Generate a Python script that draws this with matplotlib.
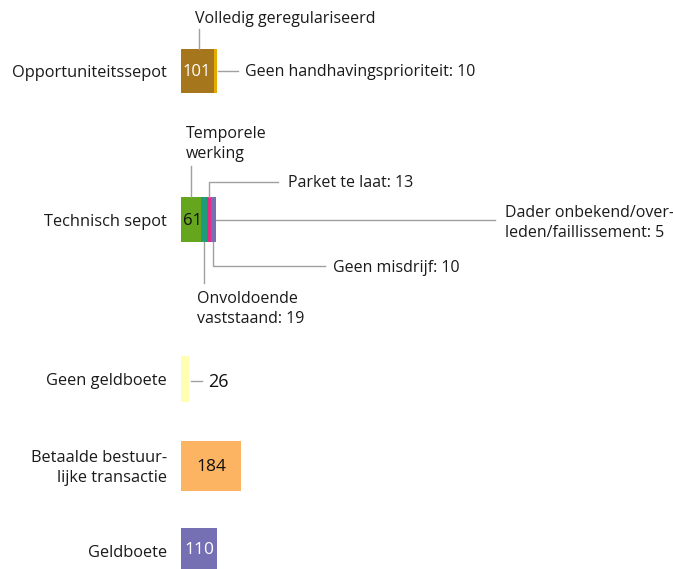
import matplotlib
matplotlib.use("Agg")
import matplotlib.pyplot as plt
import numpy as np

plt.rcParams['font.family'] = ['Open Sans', 'DejaVu Sans']

# ---- data ----
categories = ["Opportuniteitssepot", "Technisch sepot", "Geen geldboete",
              "Betaalde bestuur-\nlijke transactie", "Geldboete"]
opp_labels = ["Volledig geregulariseerd", "Geen handhavingsprioriteit"]
opp_values = [101, 10]
tech_labels = ["Temporele\nwerking", "Onvoldoende\nvaststaand", "Parket te laat",
               "Geen misdrijf", "Dader onbekend/over-\nleden/faillissement"]
tech_values = [61, 19, 13, 10, 5]
geen_geldboete = [26]
betaalde = [184]
geldboete = [110]

# ---- colours / layout ----
opp_colors = ["#A6761D", "#E6AB02"]
tech_colors = ["#66A61E", "#1B9E77", "#E7298A", "#7570B3", "#D95F02"]
single_colors = ["#FFFFB3", "#FDB462", "#7570B3"]
row_y = [71, 219.5, 379, 466, 551]      # pixel rows (top = 0)
row_h = [44, 45, 46, 50, 46]
W, H = 673, 569
x0 = 181          # pixel where bars start
k = 0.326         # pixels per unit
line_c = "#A0A0A0"
fs = 11.5
tc_col = "#1A1A1A"

fig = plt.figure(figsize=(W / 100, H / 100), dpi=100)
ax = fig.add_axes([0, 0, 1, 1])
ax.set_xlim(-x0 / k, (W - x0) / k)
ax.set_ylim(H, 0)
ax.axis("off")

def px(u):
    return u / k  # pixel offset -> data units

# category labels
for lab, y in zip(categories, row_y):
    ax.text(px(167 - x0), y + 2, lab, ha="right", va="center", fontsize=fs + 0.3,
            color=tc_col, linespacing=1.3)

# Opportuniteitssepot
left = 0
for v, c in zip(opp_values, opp_colors):
    ax.barh(row_y[0], v, left=left, height=row_h[0], color=c, linewidth=0)
    left += v
opp_cum = np.cumsum([0] + opp_values)
ax.text(opp_values[0] / 2 - px(1), row_y[0] + 1, str(opp_values[0]), ha="center",
        va="center", color="white", fontsize=fs + 0.5)
c0 = opp_values[0] / 2 + px(1.5)
ax.plot([c0, c0], [29, row_y[0] - row_h[0] / 2], color=line_c, lw=1)
ax.text(px(195 - x0), 19, opp_labels[0], ha="left", va="center", fontsize=fs, color=tc_col)
end = opp_cum[-1]
ax.plot([end + px(1), end + px(21)], [row_y[0], row_y[0]], color=line_c, lw=1)
ax.text(end + px(28), row_y[0] + 1, f"{opp_labels[1]}: {opp_values[1]}", ha="left",
        va="center", fontsize=fs, color=tc_col)

# Technisch sepot
left = 0
for v, c in zip(tech_values, tech_colors):
    ax.barh(row_y[1], v, left=left, height=row_h[1], color=c, linewidth=0)
    left += v
tc = np.cumsum([0] + tech_values)
centers = (tc[:-1] + tc[1:]) / 2
top = row_y[1] - row_h[1] / 2
bot = row_y[1] + row_h[1] / 2
ax.text(px(183 - x0), row_y[1] + 1, str(tech_values[0]), ha="left",
        va="center", color="#111111", fontsize=fs + 0.5)
# Temporele werking
ax.plot([centers[0], centers[0]], [166, top], color=line_c, lw=1)
ax.text(px(186 - x0), 144, tech_labels[0], ha="left", va="center", fontsize=fs,
        color=tc_col, linespacing=1.3)
# Onvoldoende vaststaand
ax.plot([centers[1], centers[1]], [bot, 283], color=line_c, lw=1)
ax.text(px(197 - x0), 309, f"{tech_labels[1]}: {tech_values[1]}", ha="left",
        va="center", fontsize=fs, color=tc_col, linespacing=1.3)
# Parket te laat
ax.plot([centers[2], centers[2], px(278 - x0)], [top, 182, 182], color=line_c, lw=1)
ax.text(px(288 - x0), 183, f"{tech_labels[2]}: {tech_values[2]}", ha="left",
        va="center", fontsize=fs, color=tc_col)
# Geen misdrijf
ax.plot([centers[3], centers[3], px(325 - x0)], [bot, 266, 266], color=line_c, lw=1)
ax.text(px(333 - x0), 268, f"{tech_labels[3]}: {tech_values[3]}", ha="left",
        va="center", fontsize=fs, color=tc_col)
# Dader onbekend
ax.plot([tc[-1], px(495 - x0)], [row_y[1], row_y[1]], color=line_c, lw=1)
ax.text(px(505 - x0), 223, f"{tech_labels[4]}: {tech_values[4]}", ha="left",
        va="center", fontsize=fs, color=tc_col, linespacing=1.3)

# Geen geldboete
ax.barh(row_y[2], geen_geldboete[0], height=row_h[2], color=single_colors[0], linewidth=0)
ax.plot([geen_geldboete[0] + px(2), geen_geldboete[0] + px(13)], [381, 381], color=line_c, lw=1)
ax.text(geen_geldboete[0] + px(19), 382, str(geen_geldboete[0]), ha="left", va="center",
        fontsize=fs + 1.5, color="#111111")

# Betaalde bestuurlijke transactie
ax.barh(row_y[3], betaalde[0], height=row_h[3], color=single_colors[1], linewidth=0)
ax.text(betaalde[0] / 2, row_y[3] + 1, str(betaalde[0]), ha="center", va="center",
        fontsize=fs + 1, color="#111111")

# Geldboete
ax.barh(row_y[4], geldboete[0], height=row_h[4], color=single_colors[2], linewidth=0)
ax.text(geldboete[0] / 2, row_y[4] - 1, str(geldboete[0]), ha="center", va="center",
        fontsize=fs + 1, color="white")

fig.savefig("out.png", dpi=100)
